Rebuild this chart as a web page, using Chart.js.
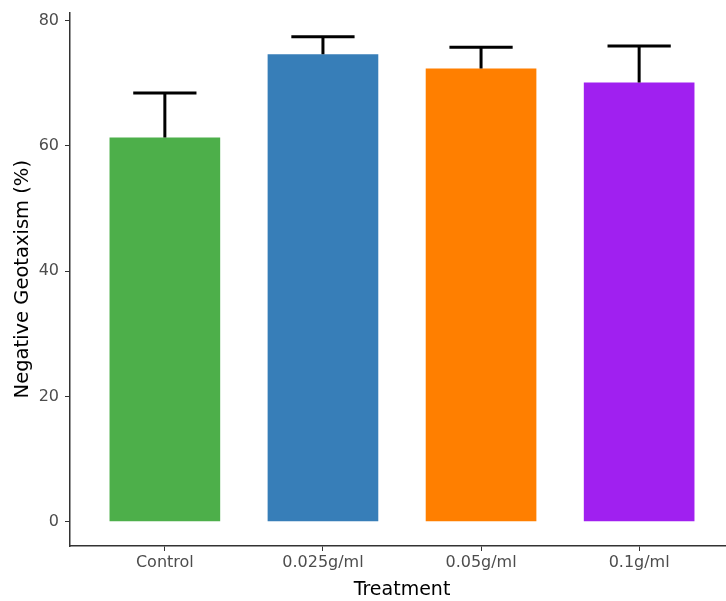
<!DOCTYPE html>
<html>
<head>
<meta charset="utf-8">
<script src="https://cdn.jsdelivr.net/npm/chart.js@4"></script>
<style>
  html, body { margin: 0; padding: 0; background: #fff; overflow: hidden; }
  #wrap { width: 734px; height: 601px; }
</style>
</head>
<body>
<div id="wrap"><canvas id="geoChart" width="734" height="601"></canvas></div>
<script>
// data
const treatments = ['Control', '0.025g/ml', '0.05g/ml', '0.1g/ml'];
const meanValues = [61.3, 74.6, 72.3, 70.1];
const upperValues = [68.4, 77.4, 75.7, 75.9];
const barColors = ['#4daf4a', '#377eb8', '#ff7f00', '#a020f0'];
const yTicks = [0, 20, 40, 60, 80];

Chart.defaults.font.family = "'DejaVu Sans', sans-serif";
Chart.defaults.animation = false;

// upward-only error bars, like the ggplot original
const errorBars = {
    id: 'errorBars',
    afterDatasetsDraw(chart) {
        const ctx = chart.ctx;
        const xs = chart.scales.x, ys = chart.scales.y;
        ctx.save();
        ctx.strokeStyle = '#000';
        ctx.lineWidth = 3;
        ctx.lineCap = 'butt';
        treatments.forEach((t, i) => {
            let x = xs.getPixelForValue(i + 1);
            let half = (xs.getPixelForValue(i + 1.2) - x);
            let yTop = ys.getPixelForValue(upperValues[i]);
            let yMid = ys.getPixelForValue(meanValues[i]);
            ctx.beginPath();
            ctx.moveTo(x, yMid);
            ctx.lineTo(x, yTop);
            ctx.moveTo(x - half, yTop);
            ctx.lineTo(x + half, yTop);
            ctx.stroke();
        });
        ctx.restore();
    }
};

const ctx = document.getElementById('geoChart');
new Chart(ctx, {
    type: 'bar',
    data: {
        datasets: [{
            data: meanValues.map((v, i) => ({ x: i + 1, y: v })),
            backgroundColor: barColors,
            borderWidth: 0,
            barPercentage: 0.7,
            categoryPercentage: 1
        }]
    },
    options: {
        responsive: false,
        layout: { padding: { top: 10, left: 0, right: 0, bottom: 0 } },
        plugins: { legend: { display: false }, tooltip: { enabled: false } },
        scales: {
            x: {
                type: 'linear',
                offset: false,
                min: 0.4,
                max: 4.6,
                afterBuildTicks: s => { s.ticks = treatments.map((t, i) => ({ value: i + 1 })); },
                afterFit: s => { s.height = 55; },
                ticks: {
                    color: '#4d4d4d',
                    font: { size: 16 },
                    padding: 2,
                    maxRotation: 0,
                    callback: v => treatments[v - 1]
                },
                grid: { offset: false, drawOnChartArea: false, tickLength: 5, color: '#333', lineWidth: 1 },
                border: { color: '#333', width: 1.5 },
                title: { display: true, text: 'Treatment', color: '#000', font: { size: 19 }, padding: { top: 0, bottom: 0 } }
            },
            y: {
                min: -3.87,
                max: 81.27,
                afterBuildTicks: s => { s.ticks = yTicks.map(v => ({ value: v })); },
                afterFit: s => { s.width = 70; },
                ticks: { color: '#4d4d4d', font: { size: 16, lineHeight: 0.8 }, padding: 6 },
                grid: { drawOnChartArea: false, tickLength: 5, color: '#333', lineWidth: 1 },
                border: { color: '#333', width: 1.5 },
                title: { display: true, text: 'Negative Geotaxism (%)', color: '#000', font: { size: 19.5 }, padding: { top: 11, bottom: 0 } }
            }
        }
    },
    plugins: [errorBars]
});
</script>
</body>
</html>
